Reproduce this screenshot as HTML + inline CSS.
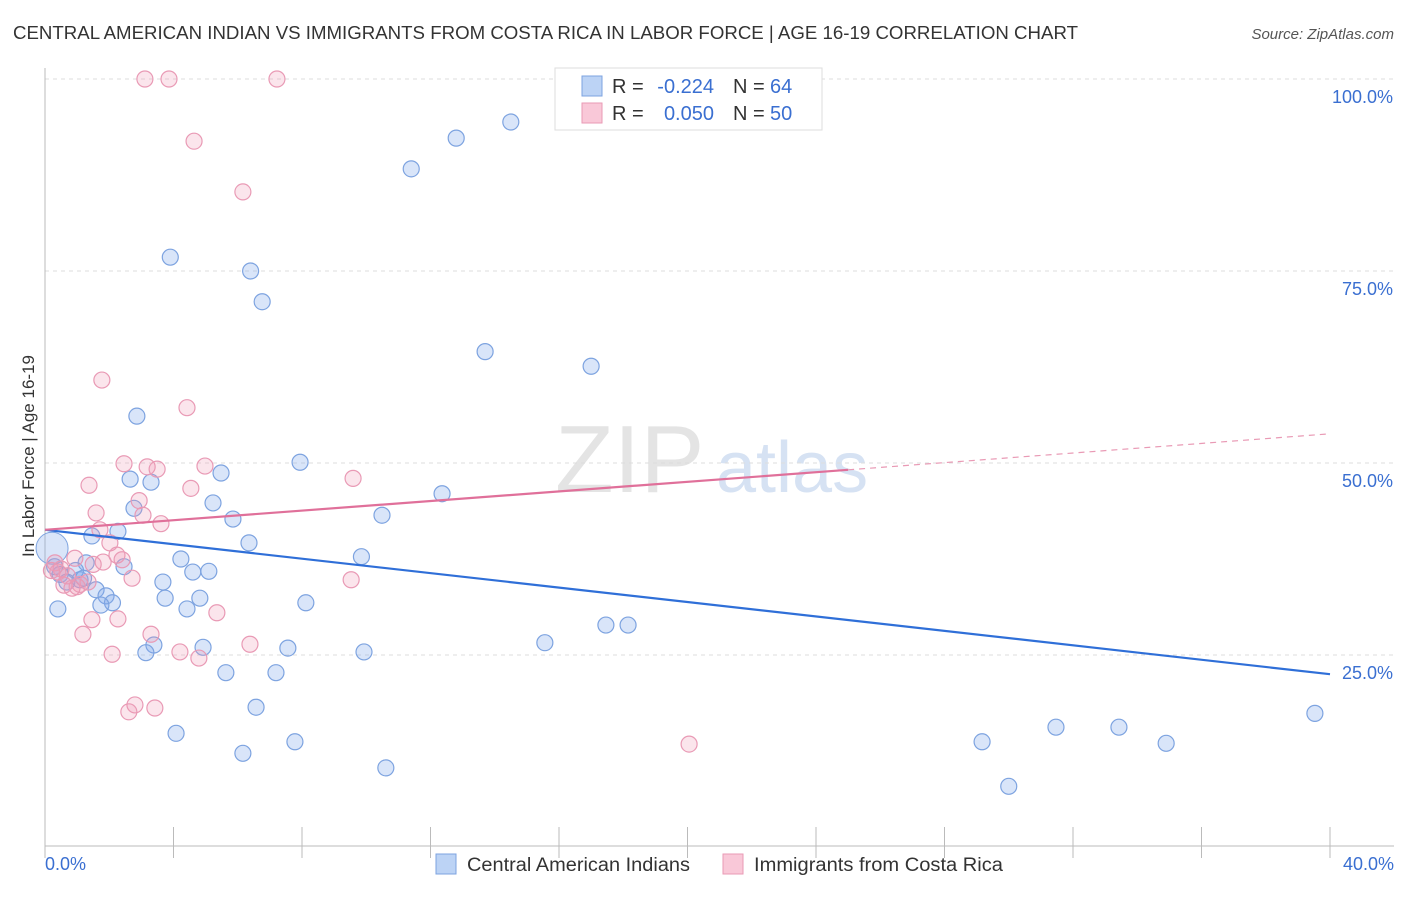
<!DOCTYPE html>
<html><head><meta charset="utf-8"><style>
body{margin:0;background:#fff;font-family:"Liberation Sans",sans-serif;}
svg text{font-family:"Liberation Sans",sans-serif;}
</style></head><body>
<svg id="chart" width="1406" height="892" xmlns="http://www.w3.org/2000/svg">
<text x="13" y="39" font-size="18" fill="#333" textLength="1065" lengthAdjust="spacingAndGlyphs">CENTRAL AMERICAN INDIAN VS IMMIGRANTS FROM COSTA RICA IN LABOR FORCE | AGE 16-19 CORRELATION CHART</text>
<text x="1394" y="39" font-size="15" fill="#555" text-anchor="end" font-style="italic">Source: ZipAtlas.com</text>
<g><text x="555" y="492" font-size="96" fill="#e4e4e4" font-family="Liberation Serif">ZIP</text><text x="716" y="492" font-size="72" fill="#d6e2f3">atlas</text></g>
<g id="grid"></g><g id="axes"></g><g id="marks"></g>
<text transform="translate(34,456) rotate(-90)" font-size="17" fill="#333" text-anchor="middle">In Labor Force | Age 16-19</text>
<text x="45" y="870" font-size="18" fill="#3a6fd1">0.0%</text>
<text x="1394" y="870" font-size="18" fill="#3a6fd1" text-anchor="end">40.0%</text>
<g>
<rect x="555" y="68" width="267" height="62" fill="#fff" stroke="#ddd"/>
<rect x="582" y="76" width="20" height="20" fill="#bcd3f5" stroke="#7da3e0"/>
<rect x="582" y="103" width="20" height="20" fill="#f9c8d8" stroke="#e99ab5"/>
<text x="612" y="93" font-size="20" fill="#333">R =</text>
<text x="714" y="93" font-size="20" fill="#3a6fd1" text-anchor="end">-0.224</text>
<text x="733" y="93" font-size="20" fill="#333">N =</text>
<text x="770" y="93" font-size="20" fill="#3a6fd1">64</text>
<text x="612" y="120" font-size="20" fill="#333">R =</text>
<text x="714" y="120" font-size="20" fill="#3a6fd1" text-anchor="end">0.050</text>
<text x="733" y="120" font-size="20" fill="#333">N =</text>
<text x="770" y="120" font-size="20" fill="#3a6fd1">50</text>
</g>
<g>
<rect x="436" y="854" width="20" height="20" fill="#bcd3f5" stroke="#7da3e0"/>
<text x="467" y="871" font-size="19" fill="#333" textLength="223" lengthAdjust="spacingAndGlyphs">Central American Indians</text>
<rect x="723" y="854" width="20" height="20" fill="#f9c8d8" stroke="#e99ab5"/>
<text x="754" y="871" font-size="19" fill="#333" textLength="249" lengthAdjust="spacingAndGlyphs">Immigrants from Costa Rica</text>
</g>
</svg>
<script>
const yTicks=[25,50,75,100];
const yTickLabels=["25.0%","50.0%","75.0%","100.0%"];
const blueX=[14.5,12.8,11.4,3.9,6.4,6.76,13.7,17.0,2.86,7.94,5.48,2.65,3.3,12.36,5.23,2.77,5.85,10.49,2.27,1.46,6.35,9.85,4.23,1.28,2.46,4.6,5.1,1.09,3.67,1.59,1.9,3.74,4.82,2.1,1.74,8.12,4.42,0.4,17.46,18.15,15.56,3.39,4.92,3.14,7.56,9.93,5.63,7.19,6.57,4.08,7.78,6.16,10.61,29.17,31.47,33.43,34.9,30.0,39.53,0.95,0.47,0.68,0.3,1.2];
const blueY=[94.4,92.3,88.3,76.8,75.0,71.0,64.5,62.6,56.1,50.1,48.7,47.9,47.5,46.0,44.8,44.1,42.7,43.2,41.1,40.5,39.6,37.8,37.5,37.0,36.5,35.8,35.9,34.8,34.5,33.5,32.7,32.4,32.4,31.8,31.5,31.8,31.0,31.0,28.9,28.9,26.6,26.3,26.0,25.3,25.9,25.4,22.7,22.7,18.2,14.8,13.7,12.2,10.3,13.7,15.6,15.6,13.5,7.9,17.4,36.0,35.5,34.5,36.5,35.0];
const bigBlue=[0.22,38.9];
const pinkX=[3.11,3.86,7.22,4.64,6.16,1.77,4.42,2.46,3.18,3.49,4.98,9.59,1.37,4.54,2.93,1.59,3.05,3.61,1.71,2.02,2.24,0.93,2.4,1.81,0.31,2.71,9.53,0.59,1.34,0.84,1.09,5.35,2.27,1.46,1.18,3.3,6.38,4.2,2.09,4.79,2.8,2.61,3.42,20.05,0.5,0.7,1.0,0.4,1.5,0.2];
const pinkY=[100,100,100,91.9,85.3,60.8,57.2,49.9,49.5,49.2,49.6,48.0,47.1,46.7,45.1,43.5,43.2,42.1,41.3,39.6,38.0,37.6,37.4,37.1,37.0,35.0,34.8,34.1,34.5,33.7,34.2,30.5,29.7,29.6,27.7,27.7,26.4,25.4,25.1,24.6,18.5,17.6,18.1,13.4,36.2,35.3,33.9,35.8,36.8,36.0];
const blueTrend=[41.3,22.5];
const pinkTrend=[41.3,53.8];
const pinkSolidEnd=25;
const NS="http://www.w3.org/2000/svg";
const X=v=>45+v*32.125, Y=v=>847-v*7.68;
function mk(parent,tag,attrs){const e=document.createElementNS(NS,tag);for(const k in attrs)e.setAttribute(k,attrs[k]);document.getElementById(parent).appendChild(e);return e;}
yTicks.forEach((t,i)=>{
 const l=mk('grid','line',{x1:45,x2:1394,y1:Y(t),y2:Y(t),stroke:'#ddd','stroke-dasharray':'4,4'});
 
 
 const tx=mk('grid','text',{x:1393,y:Y(t)+24,'font-size':18,fill:'#3a6fd1','text-anchor':'end'});
 tx.textContent=yTickLabels[i];
 
 
});
let a=mk('axes','line',{x1:45,x2:45,y1:68,y2:846,stroke:'#bbb'});


a=mk('axes','line',{x1:45,x2:1394,y1:846,y2:846,stroke:'#bbb'});


for(let i=0;i<=10;i++){const t=mk('axes','line',{x1:X(i*4),x2:X(i*4),y1:827,y2:858,stroke:'#bbb'});
 
 }
blueX.forEach((x,i)=>{const c=mk('marks','circle',{cx:X(x),cy:Y(blueY[i]),r:8,fill:'rgba(130,170,235,0.3)',stroke:'#7da3e0','stroke-width':1.2});
 
 });
let b=mk('marks','circle',{cx:X(bigBlue[0]),cy:Y(bigBlue[1]),r:16,fill:'rgba(130,170,235,0.3)',stroke:'#7da3e0'});


pinkX.forEach((x,i)=>{const c=mk('marks','circle',{cx:X(x),cy:Y(pinkY[i]),r:8,fill:'rgba(240,150,180,0.25)',stroke:'#e99ab5','stroke-width':1.2});
 
 });
let tl=mk('marks','line',{x1:X(0),y1:Y(blueTrend[0]),x2:X(40),y2:Y(blueTrend[1]),stroke:'#2f6fd8','stroke-width':2.2});


const pe=pinkTrend[0]+(pinkTrend[1]-pinkTrend[0])*pinkSolidEnd/40;
tl=mk('marks','line',{x1:X(0),y1:Y(pinkTrend[0]),x2:X(pinkSolidEnd),y2:Y(pe),stroke:'#e0709a','stroke-width':2.2});


tl=mk('marks','line',{x1:X(pinkSolidEnd),y1:Y(pe),x2:X(40),y2:Y(pinkTrend[1]),stroke:'#e99ab5','stroke-width':1.2,'stroke-dasharray':'6,5'});


</script>
</body></html>
